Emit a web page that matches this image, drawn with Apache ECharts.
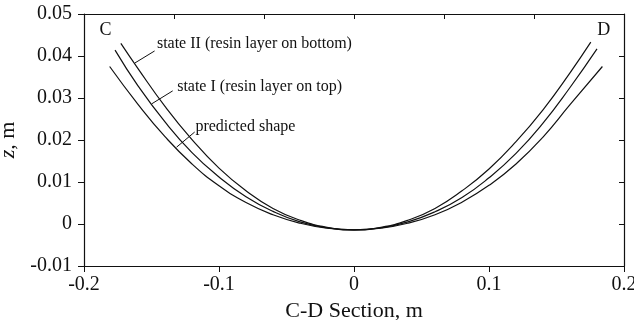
<!DOCTYPE html>
<html>
<head>
<meta charset="utf-8">
<script src="https://cdn.jsdelivr.net/npm/echarts@6/dist/echarts.min.js"></script>
<style>
  html, body { margin: 0; padding: 0; background: #fff; }
  #chart { width: 634px; height: 320px; }
</style>
</head>
<body>
<div id="chart"></div>
<script>
// values (x: C-D section in m, z in m)
const predX = [-0.181, -0.16, -0.14, -0.12, -0.10, -0.08, -0.06, -0.04, -0.02, 0, 0.02, 0.04, 0.06, 0.08, 0.10, 0.12, 0.14, 0.16, 0.184];
const predZ = [0.0375, 0.0285, 0.0208, 0.0143, 0.0091, 0.0051, 0.0022, 0.0002, -0.0010, -0.0014, -0.0010, 0.0002, 0.0022, 0.0052, 0.0092, 0.0143, 0.0207, 0.0284, 0.0375];

const state1X = [-0.177, -0.16, -0.14, -0.12, -0.10, -0.08, -0.06, -0.04, -0.02, 0, 0.02, 0.04, 0.06, 0.08, 0.10, 0.12, 0.14, 0.16, 0.180];
const state1Z = [0.0414, 0.0329, 0.0243, 0.0170, 0.0112, 0.0065, 0.0030, 0.0005, -0.0009, -0.0014, -0.0009, 0.0005, 0.0029, 0.0063, 0.0110, 0.0168, 0.0240, 0.0325, 0.0417];

const state2X = [-0.1727, -0.16, -0.14, -0.12, -0.10, -0.08, -0.06, -0.04, -0.02, 0, 0.02, 0.04, 0.06, 0.08, 0.10, 0.12, 0.14, 0.16, 0.1754];
const state2Z = [0.0430, 0.0370, 0.0280, 0.0201, 0.0133, 0.0079, 0.0037, 0.0009, -0.0008, -0.0014, -0.0008, 0.0009, 0.0037, 0.0079, 0.0131, 0.0196, 0.0272, 0.0360, 0.0433];

const xTicks = [-0.2, -0.1, 0, 0.1, 0.2];
const yTicks = [-0.01, 0, 0.01, 0.02, 0.03, 0.04, 0.05];

const serif = '"Liberation Serif", "DejaVu Serif", serif';

const pairs = (xs, zs) => xs.map((x, i) => [x, zs[i]]);

// leader lines + labels (data coords)
const notes = [
  { text: 'state II (resin layer on bottom)', from: [-0.1625, 0.0383], to: [-0.1477, 0.0412], at: [-0.146, 0.0428] },
  { text: 'state I (resin layer on top)', from: [-0.1499, 0.0286], to: [-0.1343, 0.0317], at: [-0.131, 0.0326] },
  { text: 'predicted shape', from: [-0.1314, 0.0183], to: [-0.118, 0.0219], at: [-0.1175, 0.0232] }
];

const curve = (name, xs, zs) => ({
  name, type: 'line', smooth: true, symbol: 'none',
  data: pairs(xs, zs),
  lineStyle: { color: '#111', width: 1.2 },
  silent: true
});

const chart = echarts.init(document.getElementById('chart'));

const annot = curve('annot', [], []);
annot.markLine = {
  silent: true, symbol: 'none', label: { show: false },
  lineStyle: { color: '#111', width: 1, type: 'solid' },
  data: notes.map(n => [{ coord: n.from }, { coord: n.to }])
};
annot.markPoint = {
  silent: true, symbol: 'circle', symbolSize: 0,
  label: { show: true, position: 'right', distance: 0, color: '#111', fontFamily: serif, fontSize: 16 },
  data: notes.map(n => ({ coord: n.at, value: n.text, label: { formatter: n.text } })).concat([
    { coord: [-0.184, 0.0462], label: { formatter: 'C', position: 'inside', fontSize: 18 } },
    { coord: [0.185, 0.0462], label: { formatter: 'D', position: 'inside', fontSize: 18 } }
  ])
};

const frameAxis = { onZero: false, lineStyle: { color: '#111', width: 1.2 } };

chart.setOption({
  backgroundColor: '#fff',
  animation: false,
  grid: { left: 84, right: 10, top: 14, bottom: 54, containLabel: false, outerBoundsMode: 'none' },
  xAxis: [{
    type: 'value', min: xTicks[0], max: xTicks[xTicks.length - 1], interval: 0.1,
    name: 'C-D Section, m', nameLocation: 'middle', nameGap: 28,
    nameTextStyle: { fontFamily: serif, fontSize: 22, color: '#111' },
    axisLine: frameAxis,
    axisTick: { inside: false, length: 6, lineStyle: { color: '#111' } },
    axisLabel: { fontFamily: serif, fontSize: 20, color: '#111', margin: 9 },
    splitLine: { show: false }
  }, {
    type: 'value', position: 'top', min: -0.2, max: 0.2, interval: 0.2 / 3,
    axisLine: frameAxis,
    axisTick: { inside: true, length: 5, lineStyle: { color: '#111' } },
    axisLabel: { show: false }, splitLine: { show: false }
  }],
  yAxis: [{
    type: 'value', min: yTicks[0], max: yTicks[yTicks.length - 1], interval: 0.01,
    name: '{i|z}, m', nameLocation: 'middle', nameGap: 58, nameRotate: 90,
    nameTextStyle: { fontFamily: serif, fontSize: 22, color: '#111',
      rich: { i: { fontFamily: serif, fontSize: 22, fontStyle: 'italic', color: '#111' } } },
    axisLine: frameAxis,
    axisTick: { inside: false, length: 6, lineStyle: { color: '#111' } },
    axisLabel: { fontFamily: serif, fontSize: 20, color: '#111', margin: 12 },
    splitLine: { show: false }
  }, {
    type: 'value', position: 'right', min: -0.01, max: 0.05, interval: 0.01,
    axisLine: frameAxis,
    axisTick: { inside: true, length: 5, lineStyle: { color: '#111' } },
    axisLabel: { show: false }, splitLine: { show: false }
  }],
  series: [
    curve('predicted shape', predX, predZ),
    curve('state I (resin layer on top)', state1X, state1Z),
    curve('state II (resin layer on bottom)', state2X, state2Z),
    annot
  ]
});
</script>
</body>
</html>
